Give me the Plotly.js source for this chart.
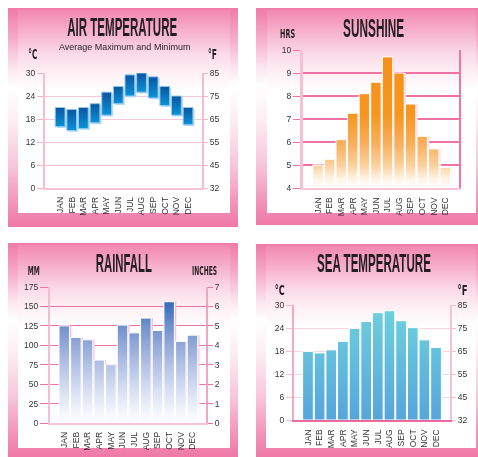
<!DOCTYPE html>
<html><head><meta charset="utf-8">
<script src="https://cdn.plot.ly/plotly-3.0.1.min.js"></script>
<style>
html,body{margin:0;padding:0;background:#fff;width:478px;height:457px;overflow:hidden;}
.outer{position:absolute;background:linear-gradient(to bottom,#f17aa8 0%,#f6acc8 14%,#fce8f0 28%,#ffffff 36%,#fdf0f5 50%,#f8c6d9 72%,#f291b7 90%,#ef78a6 100%);}
.inner{position:absolute;background:linear-gradient(to bottom,#f288b1 0%,#f7b6ce 12%,#fbdce8 22%,#fef2f6 32%,#ffffff 40%,#ffffff 100%);}
#chart{position:absolute;left:0;top:0;width:478px;height:457px;will-change:transform;}
</style></head><body>
<div class="outer" style="left:8px;top:8px;width:230px;height:219px"></div>
<div class="inner" style="left:18px;top:10px;width:212px;height:203px"></div>
<div class="outer" style="left:256px;top:8px;width:222px;height:217px"></div>
<div class="inner" style="left:267px;top:10px;width:209px;height:203px"></div>
<div class="outer" style="left:8px;top:243px;width:230px;height:214px"></div>
<div class="inner" style="left:18px;top:245px;width:212px;height:203px"></div>
<div class="outer" style="left:256px;top:244px;width:222px;height:213px"></div>
<div class="inner" style="left:266px;top:246px;width:210px;height:202px"></div>
<div id="chart"></div>
<script>
// ---------- data ----------
const months = ['JAN','FEB','MAR','APR','MAY','JUN','JUL','AUG','SEP','OCT','NOV','DEC'];
const airMaxC = [21, 20.5, 21, 22, 25, 26.5, 29.5, 30, 29, 26.5, 24, 21];
const airMinC = [16, 15, 15.5, 17, 19, 22, 24, 25, 23.5, 21.5, 19, 16.5];
const sunshineHrs = [5.0, 5.25, 6.1, 7.25, 8.1, 8.6, 9.7, 9.0, 7.65, 6.25, 5.7, 4.9];
const rainfallMm = [125, 110, 107, 81, 75, 126, 116, 135, 119, 156, 105, 113];
const seaTempC = [17.9, 17.5, 18.3, 20.5, 23.9, 25.7, 28.0, 28.5, 25.9, 24.1, 20.9, 18.9];
const celsiusTicks = [0, 6, 12, 18, 24, 30];
const fahrenheitTickLabels = ['32', '45', '55', '65', '75', '85'];

// ---------- helpers ----------
const W = 478, H = 457;
const px = v => v / W;
const py = v => 1 - v / H;
const FAM = 'Liberation Sans, Arial, sans-serif';
const CFAM = 'DejaVu Sans Condensed, Liberation Sans Narrow, Liberation Sans, Arial, sans-serif';
const tickFont = {family: FAM, size: 8.5, color: '#333'};
const titleFont = {family: FAM, size: 25, color: '#231f20'};
const unitFont = {family: CFAM, size: 14, color: '#231f20'};
const smallUnitFont = {family: CFAM, size: 12, color: '#231f20'};

function xAx(dom, y, range) {
  return {domain: dom, anchor: y, type: 'category', range: range, showgrid: false,
    ticks: '', tickangle: -90, tickfont: tickFont, ticklabelstandoff: 4,
    showline: true, linecolor: '#f6c2d5', linewidth: 1.5, zeroline: false, fixedrange: true};
}
const airLen = airMaxC.map((v, i) => v - airMinC[i]);

const traces = [
  // soft drop shadows (same values, nudged right)
  {type: 'bar', name: 'airShadow', x: months, base: airMinC.map(v => v - 0.35), y: airLen,
   xaxis: 'x', yaxis: 'y', width: 0.84, offset: -0.42 + 0.14, marker: {color: '#b9dcf3', line: {width: 0}}, hoverinfo: 'skip'},
  {type: 'bar', name: 'sunShadow', x: months, y: sunshineHrs, xaxis: 'x2', yaxis: 'y2', width: 0.9, offset: -0.45 + 0.16,
   marker: {color: '#fbdbe6', line: {width: 0}}, hoverinfo: 'skip'},
  {type: 'bar', name: 'rainShadow', x: months, y: rainfallMm, xaxis: 'x3', yaxis: 'y3', width: 0.9, offset: -0.45 + 0.16,
   marker: {color: '#f7bfd2', line: {width: 0}}, hoverinfo: 'skip'},
  {type: 'bar', name: 'seaShadow', x: months, y: seaTempC, xaxis: 'x4', yaxis: 'y4', width: 0.92, offset: -0.46 + 0.14,
   marker: {color: '#f4f8fb', line: {width: 0}}, hoverinfo: 'skip'},
  // main bars
  {type: 'bar', name: 'air', x: months, base: airMinC, y: airLen,
   xaxis: 'x', yaxis: 'y', width: 0.84, marker: {color: '#0b72bd', line: {color: '#92c8ee', width: 1}}, hoverinfo: 'skip'},
  {type: 'bar', name: 'sun', x: months, y: sunshineHrs, xaxis: 'x2', yaxis: 'y2', width: 0.9,
   marker: {color: '#f7931e', line: {color: '#ffffff', width: 1}}, hoverinfo: 'skip'},
  {type: 'bar', name: 'rain', x: months, y: rainfallMm, xaxis: 'x3', yaxis: 'y3', width: 0.9,
   marker: {color: '#7c96d0', line: {color: '#ffffff', width: 1}}, hoverinfo: 'skip'},
  {type: 'bar', name: 'sea', x: months, y: seaTempC, xaxis: 'x4', yaxis: 'y4', width: 0.92,
   marker: {color: '#64bde0', line: {color: '#ffffff', width: 1}}, hoverinfo: 'skip'},
  {type: 'scatter', x: [], y: [], xaxis: 'x', yaxis: 'y5', showlegend: false},
  {type: 'scatter', x: [], y: [], xaxis: 'x2', yaxis: 'y6', showlegend: false},
  {type: 'scatter', x: [], y: [], xaxis: 'x3', yaxis: 'y7', showlegend: false},
  {type: 'scatter', x: [], y: [], xaxis: 'x4', yaxis: 'y8', showlegend: false}
];

const annots = [
  {text: 'AIR TEMPERATURE', x: px(122), y: py(27.5), font: titleFont, target: 110, bold: true},
  {text: 'Average Maximum and Minimum', x: px(124), y: py(47.5), font: {family: FAM, size: 9, color: '#231f20'}},
  {text: '°C', x: px(32.5), y: py(54), font: unitFont, target: 9, bold: true},
  {text: '°F', x: px(212.5), y: py(54), font: unitFont, target: 9, bold: true},
  {text: 'SUNSHINE', x: px(373), y: py(28.5), font: titleFont, target: 61, bold: true},
  {text: 'HRS', x: px(287.5), y: py(34.5), font: smallUnitFont, target: 15, bold: true},
  {text: 'RAINFALL', x: px(124), y: py(263), font: titleFont, target: 56, bold: true},
  {text: 'MM', x: px(34), y: py(270.5), font: smallUnitFont, target: 12, bold: true},
  {text: 'INCHES', x: px(204.5), y: py(270.5), font: smallUnitFont, target: 25, bold: true},
  {text: 'SEA TEMPERATURE', x: px(374), y: py(263), font: titleFont, target: 114, bold: true},
  {text: '°C', x: px(280), y: py(290), font: unitFont, target: 10, bold: true},
  {text: '°F', x: px(462), y: py(290), font: unitFont, target: 10, bold: true}
];

const layout = {
  width: W, height: H, margin: {l: 0, r: 0, t: 0, b: 0},
  paper_bgcolor: 'rgba(0,0,0,0)', plot_bgcolor: 'rgba(0,0,0,0)',
  showlegend: false, barmode: 'overlay',
  font: {family: FAM, color: '#333'},
  // Air temperature
  xaxis: xAx([px(45), px(202)], 'y', [-1.3, 12.2]),
  yaxis: {domain: [py(188), py(73)], anchor: 'x', range: [0, 30], tickvals: celsiusTicks,
    showgrid: true, gridcolor: '#f7c8d9', gridwidth: 1, zeroline: false,
    showline: true, linecolor: '#f6bcd1', linewidth: 2, ticks: 'outside', ticklen: 6, tickcolor: '#f4b3cb',
    tickfont: tickFont, fixedrange: true},
  yaxis5: {overlaying: 'y', side: 'right', anchor: 'x', range: [0, 30], tickvals: celsiusTicks, ticktext: fahrenheitTickLabels,
    showgrid: false, zeroline: false, showline: true, linecolor: '#f6bcd1', linewidth: 2,
    ticks: 'outside', ticklen: 4, tickcolor: '#f4b3cb', tickfont: tickFont, fixedrange: true},
  // Sunshine
  xaxis2: Object.assign(xAx([px(303), px(459)], 'y2', [-1.3, 12.18]), {linecolor: '#f8c4d6', linewidth: 2}),
  yaxis2: {domain: [py(188), py(50)], anchor: 'x2', range: [4, 10], dtick: 1,
    showgrid: true, gridcolor: '#ef74a4', gridwidth: 1.2, zeroline: false,
    showline: true, linecolor: '#f8c0d4', linewidth: 3, ticks: 'outside', ticklen: 7, tickcolor: '#ef74a4',
    tickfont: tickFont, fixedrange: true},
  yaxis6: {overlaying: 'y2', side: 'right', anchor: 'x2', range: [4, 10], showgrid: false, zeroline: false,
    showline: true, linecolor: '#ef74a4', linewidth: 1.5, ticks: '', showticklabels: false, fixedrange: true},
  // Rainfall
  xaxis3: xAx([px(50), px(206)], 'y3', [-1.22, 12.16]),
  yaxis3: {domain: [py(423), py(287)], anchor: 'x3', range: [0, 175], dtick: 25,
    showgrid: true, gridcolor: '#ef74a4', gridwidth: 1.2, zeroline: false,
    showline: true, linecolor: '#f6bcd1', linewidth: 2, ticks: 'outside', ticklen: 8, tickcolor: '#ef74a4',
    tickfont: tickFont, fixedrange: true},
  yaxis7: {overlaying: 'y3', side: 'right', anchor: 'x3', range: [0, 7], dtick: 1,
    showgrid: false, zeroline: false, showline: true, linecolor: '#f3a6c3', linewidth: 2,
    ticks: 'outside', ticklen: 5, tickcolor: '#ef74a4', tickfont: tickFont, fixedrange: true},
  // Sea temperature
  xaxis4: Object.assign(xAx([px(294), px(450)], 'y4', [-1.2, 12.2]), {linecolor: '#ea6aa0', linewidth: 2}),
  yaxis4: {domain: [py(420), py(305)], anchor: 'x4', range: [0, 30], tickvals: celsiusTicks,
    showgrid: true, gridcolor: '#f9d3e1', gridwidth: 1, zeroline: false,
    showline: true, linecolor: '#f4a9c4', linewidth: 2, ticks: 'outside', ticklen: 6, tickcolor: '#f6bcd1',
    tickfont: tickFont, fixedrange: true},
  yaxis8: {overlaying: 'y4', side: 'right', anchor: 'x4', range: [0, 30], tickvals: celsiusTicks, ticktext: fahrenheitTickLabels,
    showgrid: false, zeroline: false, showline: true, linecolor: '#f6c2d5', linewidth: 2,
    ticks: 'outside', ticklen: 4, tickcolor: '#f6bcd1', tickfont: tickFont, fixedrange: true},
  annotations: annots.map(a => ({text: a.bold ? '<b>' + a.text + '</b>' : a.text, x: a.x, y: a.y,
    xref: 'paper', yref: 'paper', xanchor: 'center', yanchor: 'middle', showarrow: false, font: a.font}))
};

const gd = document.getElementById('chart');
Plotly.newPlot(gd, traces, layout, {staticPlot: true, displayModeBar: false}).then(() => {
  const NS = 'http://www.w3.org/2000/svg';
  const svg = gd.querySelector('svg.main-svg');
  const defs = document.createElementNS(NS, 'defs');
  svg.insertBefore(defs, svg.firstChild);
  const fl = gd._fullLayout;
  function makeGrad(id, stops, ya, top, bottom) {
    const g = document.createElementNS(NS, 'linearGradient');
    g.setAttribute('id', id);
    g.setAttribute('x1', '0'); g.setAttribute('x2', '0');
    if (ya) {
      g.setAttribute('gradientUnits', 'userSpaceOnUse');
      g.setAttribute('y1', ya.c2p(top)); g.setAttribute('y2', ya.c2p(bottom));
      stops = stops.map(s => [(top - s[0]) / (top - bottom), s[1]]);
    } else {
      g.setAttribute('y1', '0'); g.setAttribute('y2', '1');
    }
    stops.forEach(s => {
      const st = document.createElementNS(NS, 'stop');
      st.setAttribute('offset', Math.max(0, Math.min(1, s[0])));
      st.setAttribute('stop-color', s[1]);
      g.appendChild(st);
    });
    defs.appendChild(g);
  }
  makeGrad('gAir', [[0, '#0a55a0'], [1, '#0a92d8']]);
  makeGrad('gSun', [[10, '#f7901a'], [7.2, '#f7961f'], [6, '#f9ad57'], [5, '#fbd09c'], [4.4, '#fff3e4'], [4, '#ffffff']], fl.yaxis2, 10, 4);
  makeGrad('gSunSh', [[10, '#fbd6e3'], [6, '#fbdce7'], [4.6, '#fff6f9'], [4, '#ffffff']], fl.yaxis2, 10, 4);
  makeGrad('gRain', [[175, '#2a62b3'], [157, '#3068b8'], [125, '#7091cd'], [100, '#93a9d9'], [75, '#b2c1e5'], [40, '#d9e1f3'], [10, '#f6f8fd'], [0, '#ffffff']], fl.yaxis3, 175, 0);
  makeGrad('gRainSh', [[175, '#f5b3cb'], [90, '#f8cadb'], [30, '#fcebf1'], [0, '#ffffff']], fl.yaxis3, 175, 0);
  makeGrad('gSea', [[30, '#70d1dc'], [28, '#6dcedc'], [15, '#62bcdd'], [0, '#56a5dc']], fl.yaxis4, 30, 0);
  const gmap = {air: 'gAir', sun: 'gSun', rain: 'gRain', sea: 'gSea', sunShadow: 'gSunSh', rainShadow: 'gRainSh'};
  gd.querySelectorAll('.barlayer .trace').forEach(tr => {
    const t = tr.__data__ && tr.__data__[0] && tr.__data__[0].trace;
    if (!t || !gmap[t.name]) return;
    tr.querySelectorAll('path').forEach(p => { p.style.fill = 'url(#' + gmap[t.name] + ')'; });
  });
  // condensed headline lettering
  gd.querySelectorAll('g.annotation').forEach(g => {
    const i = +g.getAttribute('data-index');
    const a = annots[i];
    if (!a || !a.target) return;
    const t = g.querySelector('text.annotation-text');
    const w = t.getBBox().width;
    if (!w) return;
    t.style.transformBox = 'fill-box';
    t.style.transformOrigin = 'center';
    t.style.transform = 'scaleX(' + (a.target / w) + ')';
  });
});
</script>
</body></html>
